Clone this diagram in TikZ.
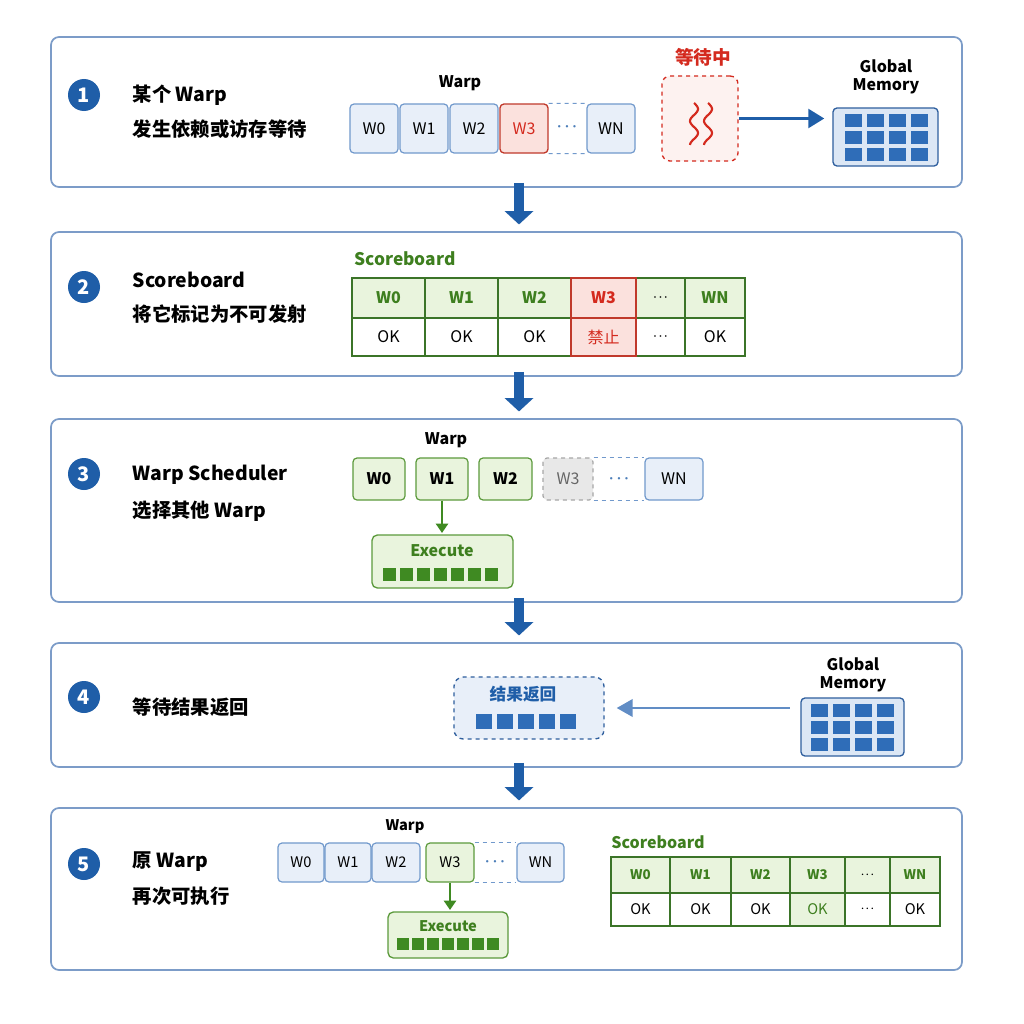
\documentclass[tikz,border=0pt]{standalone}
\usepackage{fontspec}
\setmainfont{Noto Sans CJK SC}
\usetikzlibrary{arrows.meta}
\definecolor{dblue}{HTML}{1F5EA8}
\definecolor{bfill}{HTML}{E8EFF9}
\definecolor{bline}{HTML}{7199CC}
\definecolor{rfill}{HTML}{FBE1DD}
\definecolor{rline}{HTML}{C0392B}
\definecolor{rtext}{HTML}{D42A1E}
\definecolor{gfill}{HTML}{E9F4DD}
\definecolor{gline}{HTML}{5C9A3C}
\definecolor{gtext}{HTML}{3E7F1F}
\definecolor{gdark}{HTML}{3B7428}
\definecolor{gsq}{HTML}{3F8A22}
\definecolor{mfill}{HTML}{DCE7F5}
\definecolor{mline}{HTML}{2F5F9E}
\definecolor{msq}{HTML}{2F6DB8}
\definecolor{pline}{HTML}{7C9CC8}
\newcommand\dts{\textbf{$\cdot\!\cdot\!\cdot$}}
\tikzset{
 panel/.style={draw=pline, line width=1.3pt, rounded corners=6pt, fill=white},
 wb/.style={draw=bline, fill=bfill, line width=0.9pt, rounded corners=3pt, font=\fontsize{12}{12}\selectfont},
 wr/.style={draw=rline, fill=rfill, line width=1pt, rounded corners=3pt, text=rtext, font=\fontsize{12}{12}\selectfont},
 wg/.style={draw=gline, fill=gfill, line width=0.9pt, rounded corners=3pt, font=\fontsize{12}{12}\selectfont\bfseries},
 wgray/.style={draw=gray!70, fill=gray!18, dashed, line width=0.9pt, rounded corners=3pt, text=gray!80!black, font=\fontsize{12}{12}\selectfont},
 th/.style={draw=gdark, fill=gfill, line width=0.8pt, text=gtext, font=\fontsize{12}{12}\selectfont\bfseries},
 td/.style={draw=gdark, fill=white, line width=0.8pt, font=\fontsize{12}{12}\selectfont},
 num/.style={circle, fill=dblue, text=white, minimum size=24pt, inner sep=0, font=\fontsize{15}{15}\selectfont\bfseries},
 title/.style={anchor=west, font=\fontsize{14.5}{14.5}\selectfont\bfseries},
 lbl/.style={font=\fontsize{12}{12}\selectfont\bfseries},
 dl/.style={draw=bline, dashed, line width=0.8pt},
 dots/.style={text=dblue!80, font=\fontsize{16}{16}\selectfont},
 big/.style={draw=dblue, line width=7.5pt, -{Triangle[width=21pt,length=10pt]}},
 mem/.style={draw=mline, fill=mfill, line width=1pt, rounded corners=3pt},
}
\newcommand\bx[7]{%
 \pgfmathsetmacro\bw{(#5-#3)*0.75}\pgfmathsetmacro\bh{(#6-#4)*0.75}%
 \node[#2, minimum width=\bw pt, minimum height=\bh pt, inner sep=0] (#1) at ({(#3+#5)/2},{(#4+#6)/2}) {#7};}
\begin{document}
\begin{tikzpicture}[x=0.75pt,y=-0.75pt]
\useasboundingbox[fill=white] (0,0) rectangle (1024,1024);
% panels
\bx{p1}{panel}{51}{37}{962}{187}{}
\bx{p2}{panel}{51}{232}{962}{376}{}
\bx{p3}{panel}{51}{419}{962}{602}{}
\bx{p4}{panel}{51}{643}{962}{767}{}
\bx{p5}{panel}{51}{808}{962}{970}{}
\coordinate (ax) at (519,0);
\draw[big] (p1.south -| ax) ++(0,-5) -- ([yshift=5pt]p2.north -| ax);
\draw[big] (p2.south -| ax) ++(0,-5) -- ([yshift=5pt]p3.north -| ax);
\draw[big] (p3.south -| ax) ++(0,-5) -- ([yshift=5pt]p4.north -| ax);
\draw[big] (p4.south -| ax) ++(0,-5) -- ([yshift=5pt]p5.north -| ax);
% numbers
\node[num] (n1) at (84,95) {1};
\node[num] (n2) at (84,287) {2};
\node[num] (n3) at (84,474) {3};
\node[num] (n4) at (84,697) {4};
\node[num] (n5) at (84,864) {5};
% ---- panel 1
\node[title] (t1a) at (128,95) {某个 Warp};
\node[title] (t1b) at (128,129) {发生依赖或访存等待};
\node[lbl] (wl1) at (460,83) {Warp};
\bx{a0}{wb}{350}{104}{398}{153}{W0}
\bx{a1}{wb}{400}{104}{448}{153}{W1}
\bx{a2}{wb}{450}{104}{498}{153}{W2}
\bx{a3}{wr}{500}{104}{548}{153}{W3}
\bx{aN}{wb}{587}{104}{635}{153}{WN}
\draw[dl] (a3.north east) -- (aN.north west); \draw[dl] (a3.south east) -- (aN.south west);
\node[dots] (ad) at (567,127) {\dts};
\bx{wait}{draw=rtext, fill=rfill!45, dashed, line width=1pt, rounded corners=6pt}{662}{76}{738}{161}{}
\node[text=rtext, font=\fontsize{14}{14}\selectfont\bfseries] (wt) at (703,57) {等待中};
\draw[rtext, line width=1.6pt] plot[domain=0:1, samples=40] ({694+4*sin(\x*630)}, {103+\x*42});
\draw[rtext, line width=1.6pt] plot[domain=0:1, samples=40] ({708+4*sin(\x*630)}, {103+\x*42});
\bx{gm1}{mem}{833}{108}{938}{166}{}
\foreach \i in {0,...,3}\foreach \j in {0,...,2}
  \fill[msq] ({845+\i*22},{114+\j*17}) rectangle ++(17,13);
\node[lbl, align=center, font=\fontsize{12}{14}\selectfont\bfseries] (gl1) at (886,77) {Global\\Memory};
\draw[dblue, line width=2.5pt, -{Triangle[width=14pt,length=12pt]}] (wait.east) -- ([xshift=-6pt]wait.east -| gm1.west);
% ---- panel 2
\node[title] (t2a) at (128,280) {Scoreboard};
\node[title] (t2b) at (128,314) {将它标记为不可发射};
\node[text=gtext, font=\fontsize{13}{13}\selectfont\bfseries] (sb2) at (405,259) {Scoreboard};
\bx{h0}{th}{352}{278}{425}{318}{W0}\bx{c0}{td}{352}{318}{425}{356}{OK}
\bx{h1}{th}{425}{278}{498}{318}{W1}\bx{c1}{td}{425}{318}{498}{356}{OK}
\bx{h2}{th}{498}{278}{571}{318}{W2}\bx{c2}{td}{498}{318}{571}{356}{OK}
\bx{h4}{th,text=black}{636}{278}{685}{318}{\dts}\bx{c4}{td}{636}{318}{685}{356}{\dts}
\bx{h5}{th}{685}{278}{745}{318}{WN}\bx{c5}{td}{685}{318}{745}{356}{OK}
\bx{h3}{th, draw=rline, fill=rfill, text=rtext, line width=1pt}{571}{278}{636}{318}{W3}
\bx{c3}{td, draw=rline, fill=rfill, text=rtext, line width=1pt}{571}{318}{636}{356}{禁止}
% ---- panel 3
\node[title] (t3a) at (128,475) {Warp Scheduler};
\node[title] (t3b) at (128,511) {选择其他 Warp};
\node[lbl] (wl3) at (446,440) {Warp};
\bx{b0}{wg}{353}{458}{405}{500}{W0}
\bx{b1}{wg}{416}{458}{468}{500}{W1}
\bx{b2}{wg}{479}{458}{532}{500}{W2}
\bx{b3}{wgray}{543}{458}{593}{500}{W3}
\bx{bN}{wb}{645}{458}{703}{500}{WN}
\draw[dl] (b3.north east) -- (bN.north west); \draw[dl] (b3.south east) -- (bN.south west);
\node[dots] (bd) at (619,479) {\dts};
\bx{ex3}{draw=gline, fill=gfill, line width=1pt, rounded corners=4pt}{372}{535}{513}{588}{}
\node[text=gtext, font=\fontsize{12}{12}\selectfont\bfseries] (ex3l) at (442,551) {Execute};
\foreach \i in {0,...,6} \fill[gsq] ({383+\i*17},{568}) rectangle ++(13,13);
\draw[gsq, line width=2pt, -{Triangle[width=9pt,length=7pt]}] (b1.south) -- ([yshift=1pt]b1.south |- ex3.north);
% ---- panel 4
\node[title] (t4a) at (128,707) {等待结果返回};
\bx{res}{draw=mline, fill=bfill, dashed, line width=1pt, rounded corners=7pt}{454}{677}{604}{739}{}
\node[text=dblue, font=\fontsize{12.5}{12.5}\selectfont\bfseries] (resl) at (523,694) {结果返回};
\foreach \i in {0,...,4} \fill[msq] ({476+\i*21},{714}) rectangle ++(16,15);
\bx{gm4}{mem}{801}{698}{904}{756}{}
\foreach \i in {0,...,3}\foreach \j in {0,...,2}
  \fill[msq] ({811+\i*22},{704+\j*17}) rectangle ++(17,13);
\node[align=center, font=\fontsize{12}{14}\selectfont\bfseries] (gl4) at (853,675) {Global\\Memory};
\draw[bline!80!dblue, line width=2pt, -{Triangle[width=13pt,length=12pt]}] ([xshift=-8pt]gm4.west |- res.east) -- ([xshift=9pt]res.east);
% ---- panel 5
\node[title] (t5a) at (128,862) {原 Warp};
\node[title] (t5b) at (128,896) {再次可执行};
\node[lbl, font=\fontsize{11}{11}\selectfont\bfseries] (wl5) at (405,827) {Warp};
\tikzset{s5/.style={font=\fontsize{11}{11}\selectfont}}
\bx{d0}{wb,s5}{278}{843}{324}{882}{W0}
\bx{d1}{wb,s5}{325}{843}{371}{882}{W1}
\bx{d2}{wb,s5}{372}{843}{420}{882}{W2}
\bx{d3}{wg,s5}{426}{843}{474}{882}{W3}
\bx{dN}{wb,s5}{517}{843}{564}{882}{WN}
\draw[dl] (d3.north east) -- (dN.north west); \draw[dl] (d3.south east) -- (dN.south west);
\node[dots] (dd) at (495,862) {\dts};
\bx{ex5}{draw=gline, fill=gfill, line width=1pt, rounded corners=4pt}{388}{912}{508}{958}{}
\node[text=gtext, font=\fontsize{11}{11}\selectfont\bfseries] (ex5l) at (448,926) {Execute};
\foreach \i in {0,...,6} \fill[gsq] ({397+\i*15},{938}) rectangle ++(12,12);
\draw[gsq, line width=2pt, -{Triangle[width=9pt,length=7pt]}] (d3.south) -- ([yshift=1pt]d3.south |- ex5.north);
\node[text=gtext, font=\fontsize{12}{12}\selectfont\bfseries] (sb5) at (658,842) {Scoreboard};
\tikzset{s6/.style={font=\fontsize{11}{11}\selectfont}}
\bx{e0}{th,s6,font=\bfseries}{611}{857}{670}{893}{W0}\bx{f0}{td,s6}{611}{893}{670}{926}{OK}
\bx{e1}{th,s6,font=\bfseries}{670}{857}{731}{893}{W1}\bx{f1}{td,s6}{670}{893}{731}{926}{OK}
\bx{e2}{th,s6,font=\bfseries}{731}{857}{790}{893}{W2}\bx{f2}{td,s6}{731}{893}{790}{926}{OK}
\bx{e3}{th,s6,font=\bfseries}{790}{857}{845}{893}{W3}\bx{f3}{td,s6,fill=gfill,text=gtext}{790}{893}{845}{926}{OK}
\bx{e4}{th,s6,text=black}{845}{857}{890}{893}{\dts}\bx{f4}{td,s6}{845}{893}{890}{926}{\dts}
\bx{e5}{th,s6,font=\bfseries}{890}{857}{940}{893}{WN}\bx{f5}{td,s6}{890}{893}{940}{926}{OK}
\end{tikzpicture}
\end{document}
